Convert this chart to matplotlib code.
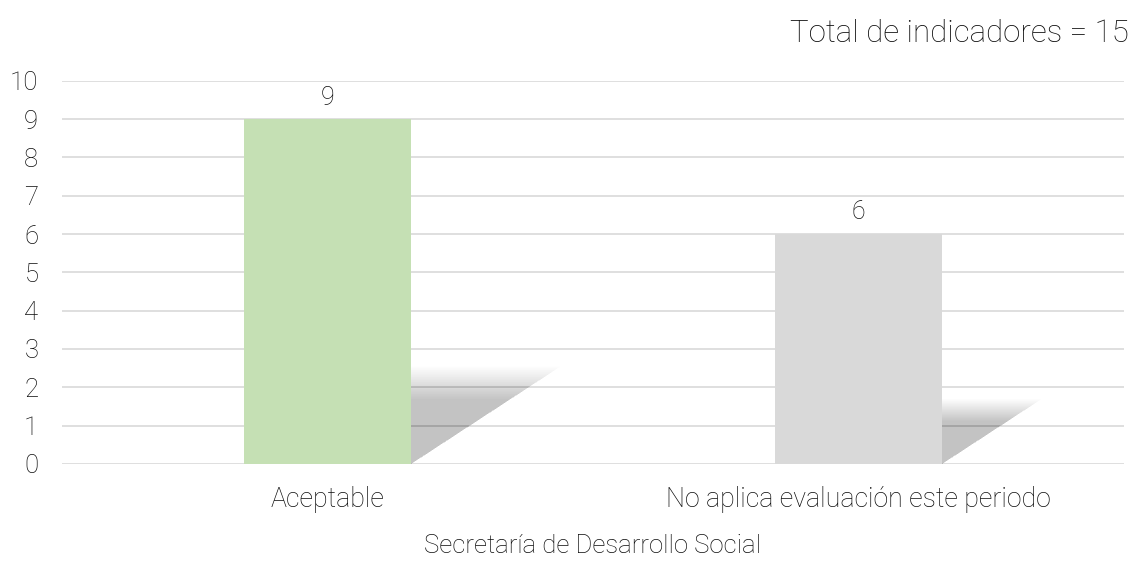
import matplotlib
matplotlib.use("Agg")
import matplotlib.pyplot as plt
from matplotlib.patches import Polygon
import numpy as np

categories = ["Aceptable", "No aplica evaluación este periodo"]
values = [9, 6]
colors = ["#C5E0B4", "#D9D9D9"]
yticks = list(range(0, 11))
title_text = "Total de indicadores = 15"
xlabel_text = "Secretaría de Desarrollo Social"

plt.rcParams['font.family'] = ['Roboto', 'DejaVu Sans']
plt.rcParams['font.weight'] = 'light'
txt = '#0d0d0d'

fig = plt.figure(figsize=(11.33, 5.61), dpi=100)
ax = fig.add_axes([0.0547, 0.173, 0.9373, 0.683])

x = np.arange(len(categories))
width = 0.315

# soft perspective shadows
n = 20
a = 1 - (0.80) ** (1 / n)
for xi, v in zip(x, values):
    h = v * 0.235
    dx = v * 0.026
    for k in range(n):
        s = 0.80 + 0.40 * k / (n - 1)
        pts = [(xi - width / 2, 0), (xi + width / 2, 0),
               (xi + width / 2 + dx * s, h * s),
               (xi - width / 2 + dx * s, h * s)]
        ax.add_patch(Polygon(pts, closed=True, facecolor="#000000",
                             edgecolor='none', alpha=a, zorder=1.5))

bars = ax.bar(x, values, width=width, color=colors, zorder=3)
for xi, v in zip(x, values):
    ax.text(xi, v + 0.25, str(v), ha='center', va='bottom', fontsize=18,
            color=txt, fontweight='light')

ax.set_xlim(-0.5, 1.5)
ax.set_ylim(0, 10)
ax.set_yticks(yticks)
ax.set_xticks(x)
ax.set_xticklabels(categories, fontsize=19.3, fontweight='light')
ax.grid(axis='y', color='#D9D9D9', linewidth=1.2, zorder=0)
ax.set_axisbelow(True)
for s in ax.spines.values():
    s.set_visible(False)
ax.tick_params(axis='both', length=0, colors=txt)
ax.tick_params(axis='x', pad=16)
ax.tick_params(axis='y', labelsize=18.5, pad=17)
ax.set_xlabel(xlabel_text, fontsize=18.5, color=txt, labelpad=15, fontweight='light')

fig.text(0.996, 0.94, title_text, ha='right', va='center', fontsize=22.5,
         color=txt, fontweight='light')

fig.savefig("out.png", dpi=100, facecolor='white')
